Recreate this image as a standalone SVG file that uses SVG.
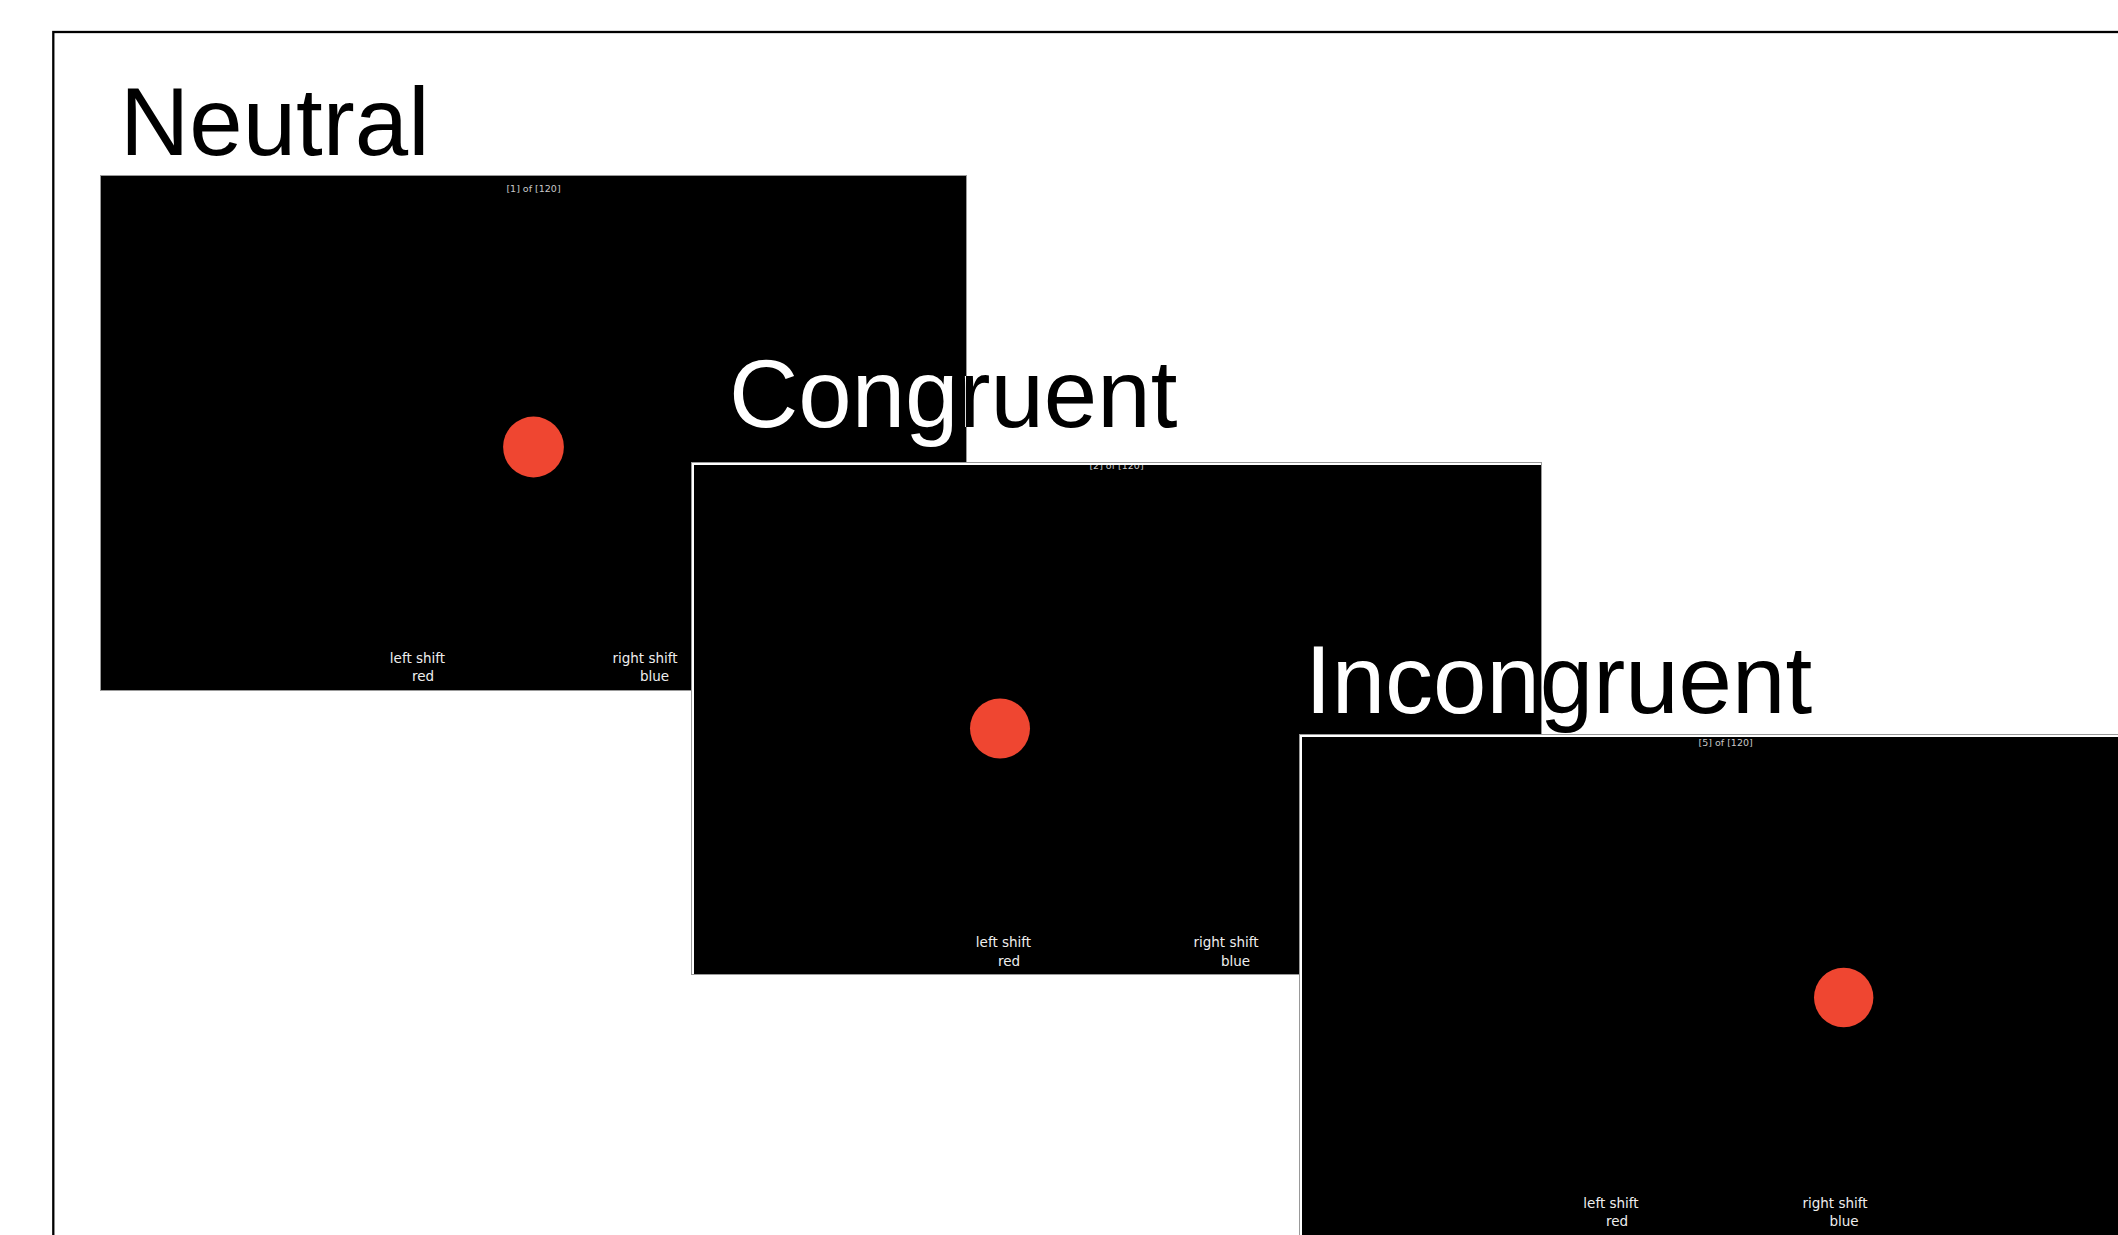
<svg xmlns="http://www.w3.org/2000/svg" width="2118" height="1235" viewBox="0 0 2118 1235">
<style>
.title{font-family:"Liberation Sans",Arial,sans-serif;font-size:96px}
.frame{fill:#fff;stroke:#999;stroke-width:1}
.screen{fill:#000}
.counter{font-family:"DejaVu Sans",sans-serif;font-size:9.5px;fill:#c8c8c8;text-anchor:middle}
.lbl{font-family:"DejaVu Sans",sans-serif;font-size:13.5px;fill:#eee;text-anchor:middle}
.dot{fill:#ef4631}
</style>
<defs>
<linearGradient id="gC" gradientUnits="userSpaceOnUse" x1="0" y1="0" x2="2118" y2="0">
<stop offset="0" stop-color="#fff"/><stop offset="0.4561" stop-color="#fff"/><stop offset="0.4561" stop-color="#000"/><stop offset="1" stop-color="#000"/>
</linearGradient>
<linearGradient id="gI" gradientUnits="userSpaceOnUse" x1="0" y1="0" x2="2118" y2="0">
<stop offset="0" stop-color="#fff"/><stop offset="0.7276" stop-color="#fff"/><stop offset="0.7276" stop-color="#000"/><stop offset="1" stop-color="#000"/>
</linearGradient>
<clipPath id="clipC"><rect x="694" y="465" width="847" height="509"/></clipPath>
</defs>
<rect x="53.3" y="32" width="2200" height="1300" fill="none" stroke="#000" stroke-width="2.3"/>
<g id="connectors"/>
<g id="neutral">
<text class="title" x="120" y="155" fill="#000">Neutral</text>
<rect x="100.5" y="175.5" width="866" height="515" fill="#000" stroke="#999" stroke-width="1"/>
<text class="counter" x="533.5" y="192">[1] of [120]</text>
<circle class="dot" cx="533.5" cy="447" r="30.4"/>
<text class="lbl" x="417.5" y="663">left shift</text>
<text class="lbl" x="423" y="681">red</text>
<text class="lbl" x="645" y="663">right shift</text>
<text class="lbl" x="654.5" y="681">blue</text>
</g>
<g id="congruent">
<text class="title" x="729" y="427" fill="url(#gC)">Congruent</text>
<rect class="frame" x="691.5" y="462.5" width="850" height="512"/>
<rect class="screen" x="694" y="465" width="847" height="509"/>
<text class="counter" x="1116.5" y="469" clip-path="url(#clipC)">[2] of [120]</text>
<circle class="dot" cx="1000" cy="728.5" r="30"/>
<text class="lbl" x="1003.5" y="947">left shift</text>
<text class="lbl" x="1009" y="966">red</text>
<text class="lbl" x="1226" y="947">right shift</text>
<text class="lbl" x="1235.5" y="966">blue</text>
</g>
<g id="incongruent">
<text class="title" x="1305" y="713" fill="url(#gI)">Incongruent</text>
<rect class="frame" x="1299.5" y="734.5" width="900" height="600"/>
<rect class="screen" x="1302" y="737" width="898" height="598"/>
<text class="counter" x="1725.6" y="746">[5] of [120]</text>
<circle class="dot" cx="1843.7" cy="997.5" r="29.7"/>
<text class="lbl" x="1611" y="1208">left shift</text>
<text class="lbl" x="1617" y="1226">red</text>
<text class="lbl" x="1835" y="1208">right shift</text>
<text class="lbl" x="1844" y="1226">blue</text>
</g>
</svg>
